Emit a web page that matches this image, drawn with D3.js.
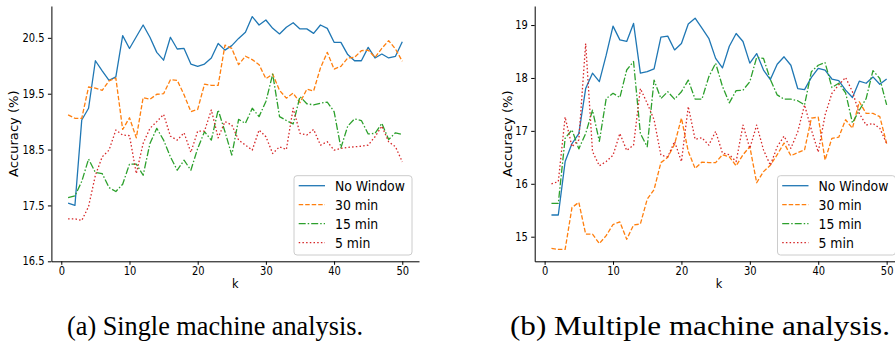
<!DOCTYPE html>
<html>
<head>
<meta charset="utf-8">
<script src="https://cdn.jsdelivr.net/npm/d3@7"></script>
<style>
  html, body { margin: 0; padding: 0; background: #fff; }
  svg { display: block; }
  .axis-text { font-family: 'DejaVu Sans', sans-serif; fill: #000; }
  .caption { font-family: 'Liberation Serif', 'DejaVu Serif', serif; fill: #000; }
</style>
</head>
<body>
<svg id="chart" width="895" height="346"></svg>
<script>
// k (number of neighbours) on the x axis
const kValues = [1, 2, 3, 4, 5, 6, 7, 8, 9, 10, 11, 12, 13, 14, 15, 16, 17, 18, 19, 20,
  21, 22, 23, 24, 25, 26, 27, 28, 29, 30, 31, 32, 33, 34, 35, 36, 37, 38, 39, 40,
  41, 42, 43, 44, 45, 46, 47, 48, 49, 50];

const seriesNames = ['No Window', '30 min', '15 min', '5 min'];

// (a) single machine analysis
const singleNoWindow = [17.54, 17.50, 19.03, 19.24, 20.09, 19.91, 19.74, 19.80, 20.54, 20.31,
  20.52, 20.73, 20.51, 20.24, 20.10, 20.51, 20.30, 20.31, 20.03, 19.99,
  20.03, 20.14, 20.40, 20.28, 20.36, 20.49, 20.60, 20.88, 20.73, 20.82,
  20.67, 20.57, 20.69, 20.77, 20.66, 20.66, 20.58, 20.73, 20.67, 20.42,
  20.42, 20.20, 20.09, 20.09, 20.33, 20.14, 20.21, 20.14, 20.17, 20.43];
const singleThirty = [19.12, 19.06, 19.06, 19.62, 19.60, 19.56, 19.73, 19.78, 18.86, 19.07,
  18.71, 19.43, 19.40, 19.49, 19.50, 19.75, 19.74, 19.48, 19.18, 19.22,
  19.67, 19.65, 19.65, 20.37, 20.31, 20.02, 20.17, 20.11, 20.02, 19.77,
  19.85, 19.56, 19.42, 19.51, 19.34, 19.58, 19.55, 19.96, 20.24, 19.94,
  19.99, 20.14, 20.15, 20.27, 20.28, 20.15, 20.31, 20.45, 20.30, 20.08];
const singleFifteen = [17.64, 17.67, 17.93, 18.33, 18.09, 18.07, 17.82, 17.75, 17.88, 18.24,
  18.24, 18.04, 18.61, 18.88, 18.67, 18.37, 18.13, 18.31, 18.13, 18.52,
  18.82, 18.67, 19.21, 18.82, 18.40, 19.04, 18.97, 19.24, 19.09, 19.36,
  19.85, 19.09, 19.02, 18.96, 19.45, 19.32, 19.30, 19.33, 19.35, 19.18,
  18.53, 18.92, 19.05, 19.02, 18.78, 18.79, 18.97, 18.68, 18.80, 18.77];
const singleFive = [17.26, 17.26, 17.23, 17.48, 18.04, 18.37, 18.49, 18.85, 18.76, 18.75,
  18.07, 18.61, 18.88, 19.00, 19.13, 18.74, 18.67, 18.80, 18.45, 18.83,
  18.83, 19.21, 18.71, 19.00, 18.94, 18.67, 18.58, 18.49, 18.85, 18.73,
  18.43, 18.55, 18.50, 19.24, 18.79, 18.76, 18.86, 18.58, 18.64, 18.49,
  18.52, 18.54, 18.55, 18.56, 18.58, 18.73, 18.92, 18.64, 18.55, 18.28];

// (b) multiple machine analysis
const multiNoWindow = [15.41, 15.41, 16.42, 16.76, 16.95, 17.80, 18.09, 17.93, 18.43, 18.98,
  18.72, 18.69, 19.03, 18.09, 18.12, 18.17, 18.77, 18.79, 18.53, 18.65,
  19.02, 19.13, 18.94, 18.75, 18.37, 18.19, 18.60, 18.84, 18.69, 18.28,
  18.46, 18.15, 17.97, 18.26, 18.40, 18.24, 17.80, 17.78, 18.01, 18.18,
  18.15, 17.98, 17.95, 17.77, 17.63, 17.94, 17.90, 18.02, 17.88, 17.98];
const multiThirty = [14.78, 14.76, 14.76, 15.55, 15.65, 15.05, 15.05, 14.87, 15.02, 15.23,
  15.28, 14.95, 15.22, 15.24, 15.71, 15.89, 16.40, 16.50, 16.75, 17.24,
  16.61, 16.29, 16.41, 16.40, 16.40, 16.55, 16.51, 16.34, 16.55, 16.70,
  16.02, 16.23, 16.35, 16.55, 16.77, 16.53, 16.59, 16.64, 17.24, 17.26,
  16.45, 16.86, 16.88, 17.21, 17.05, 17.55, 17.33, 17.33, 17.27, 16.76];
const multiFifteen = [15.63, 15.63, 16.86, 17.02, 16.66, 16.95, 17.39, 16.80, 17.61, 17.71,
  17.63, 18.15, 18.31, 16.95, 16.70, 17.96, 17.61, 17.74, 17.60, 17.74,
  17.96, 17.60, 17.60, 18.02, 18.28, 17.84, 17.53, 17.76, 17.77, 17.93,
  18.39, 18.37, 17.97, 17.68, 17.60, 17.60, 17.57, 17.49, 18.12, 18.24,
  18.29, 17.82, 17.90, 17.72, 17.15, 17.39, 17.61, 18.14, 17.99, 17.49];
const multiFive = [16.00, 16.04, 17.26, 16.70, 16.83, 18.65, 16.61, 16.34, 16.42, 16.54,
  16.95, 16.63, 16.73, 17.80, 17.52, 17.21, 16.54, 16.51, 16.80, 16.42,
  17.46, 16.84, 16.87, 16.73, 16.99, 16.58, 16.55, 16.42, 17.11, 16.67,
  17.11, 16.64, 16.35, 16.70, 16.90, 16.67, 16.98, 17.49, 17.02, 16.60,
  17.30, 17.71, 17.87, 18.01, 17.74, 17.33, 17.11, 17.14, 17.05, 16.76];

const xTicks = [0, 10, 20, 30, 40, 50];
const singleYTicks = [16.5, 17.5, 18.5, 19.5, 20.5];
const multiYTicks = [15, 16, 17, 18, 19];
const captions = ['(a) Single machine analysis.', '(b) Multiple machine analysis.'];

// matplotlib tab10 + line styles
const colors = ['#1f77b4', '#ff7f0e', '#2ca02c', '#d62728'];
const dashes = [null, '4.5,2', '7,2,1.5,2', '1.5,2.2'];

// the original figure was squeezed horizontally a bit
const SQUEEZE = 0.87;

const svg = d3.select('#chart');

drawPanel({
  left: 51.4, right: 419, top: 6, bottom: 261.3,
  yDomain: [16.5, 21.07],
  yTicks: singleYTicks, yFormat: d3.format('.1f'),
  series: [singleNoWindow, singleThirty, singleFifteen, singleFive],
  yLabelX: 13.5, legendX: 294
});

drawPanel({
  left: 534.7, right: 903.4, top: 6, bottom: 261.3,
  yDomain: [14.535, 19.36],
  yTicks: multiYTicks, yFormat: d3.format('d'),
  series: [multiNoWindow, multiThirty, multiFifteen, multiFive],
  yLabelX: 508, legendX: 777.5
});

// captions under each sub-figure (LaTeX serif in the original)
svg.selectAll('text.caption')
  .data(captions)
  .join('text')
    .attr('class', 'caption')
    .attr('x', (d, i) => i === 0 ? 67 : 510)
    .attr('y', 335)
    .attr('textLength', (d, i) => i === 0 ? 296 : 380)
    .attr('lengthAdjust', 'spacingAndGlyphs')
    .attr('font-size', 27)
    .text(d => d);

function drawPanel(p) {
  const x = d3.scaleLinear().domain([-1.45, 52.45]).range([p.left, p.right]);
  const y = d3.scaleLinear().domain(p.yDomain).range([p.bottom, p.top]);
  const g = svg.append('g');

  // lines
  const line = (vals) => d3.line()
    .x((d, i) => x(kValues[i]))
    .y(d => y(d))(vals);

  g.selectAll('path.series')
    .data(p.series)
    .join('path')
      .attr('class', 'series')
      .attr('d', d => line(d))
      .attr('fill', 'none')
      .attr('stroke', (d, i) => colors[i])
      .attr('stroke-width', 1.3)
      .attr('stroke-dasharray', (d, i) => dashes[i])
      .attr('stroke-linejoin', 'round');

  // axes (left + bottom spines only)
  const xAxis = g.append('g')
    .attr('transform', `translate(0,${p.bottom})`)
    .call(d3.axisBottom(x).tickValues(xTicks).tickSize(3.5).tickSizeOuter(0).tickPadding(2));
  const yAxis = g.append('g')
    .attr('transform', `translate(${p.left},0)`)
    .call(d3.axisLeft(y).tickValues(p.yTicks).tickFormat(p.yFormat)
      .tickSize(3.5).tickSizeOuter(0).tickPadding(4.5));

  [xAxis, yAxis].forEach(a => {
    a.attr('font-family', null).attr('font-size', null);
    a.select('.domain').attr('stroke', '#000').attr('stroke-width', 1);
    a.selectAll('.tick line').attr('stroke', '#000');
    a.selectAll('.tick text')
      .attr('class', 'axis-text')
      .attr('font-size', 11.4)
      .attr('transform', `scale(${SQUEEZE},1)`);
  });

  // axis titles
  g.append('text')
    .attr('class', 'axis-text')
    .attr('transform', `translate(${(p.left + p.right) / 2},288.3) scale(${SQUEEZE},1)`)
    .attr('text-anchor', 'middle')
    .attr('font-size', 13)
    .text('k');

  g.append('text')
    .attr('class', 'axis-text')
    .attr('transform', `translate(${p.yLabelX},${(p.top + p.bottom) / 2}) scale(${SQUEEZE},1) rotate(-90)`)
    .attr('text-anchor', 'middle')
    .attr('dy', '0.35em')
    .attr('font-size', 13.1)
    .text('Accuracy (%)');

  // legend
  const lg = g.append('g').attr('transform', `translate(${p.legendX},175.7)`);
  lg.append('rect')
    .attr('width', 118).attr('height', 79.3)
    .attr('rx', 3)
    .attr('fill', 'rgba(255,255,255,0.8)')
    .attr('stroke', '#cccccc')
    .attr('stroke-width', 1);

  const rows = lg.selectAll('g.row')
    .data(seriesNames)
    .join('g')
      .attr('class', 'row')
      .attr('transform', (d, i) => `translate(0,${10 + i * 19})`);

  rows.append('line')
    .attr('x1', 4.7).attr('x2', 31)
    .attr('stroke', (d, i) => colors[i])
    .attr('stroke-width', 1.3)
    .attr('stroke-dasharray', (d, i) => dashes[i]);

  rows.append('text')
    .attr('class', 'axis-text')
    .attr('transform', `translate(41,0) scale(${SQUEEZE},1)`)
    .attr('dy', '0.36em')
    .attr('font-size', 14.3)
    .text(d => d);
}
</script>
</body>
</html>
